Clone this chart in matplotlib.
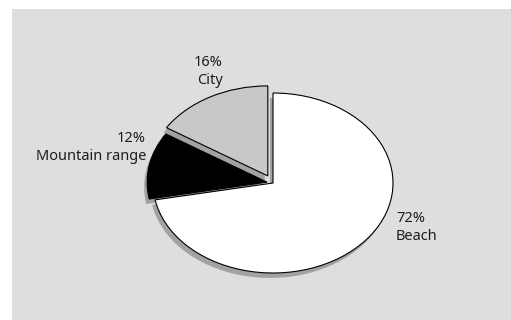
import matplotlib
matplotlib.use("Agg")
import matplotlib.pyplot as plt
from matplotlib.patches import Rectangle

categories = ["Beach", "Mountain range", "City"]
values = [72, 12, 16]
colors = ["#ffffff", "#000000", "#c8c8c8"]
explode = [0.0, 0.05, 0.09]

W, H = 511, 320
fig = plt.figure(figsize=(W / 100, H / 100), dpi=100)
fig.patch.set_facecolor("white")
fig.add_artist(Rectangle((12 / W, 0), 1 - 12 / W, (H - 9) / H,
                         transform=fig.transFigure, facecolor="#dddee0",
                         edgecolor="none", zorder=0))

cx, cy = 273, H - 183
ax = fig.add_axes([(cx - 150) / W, (cy - 112.5) / H, 300 / W, 225 / H])
ax.set_facecolor("none")

# shadow
ax.pie(values, colors=["#a2a2a2"] * 3, explode=explode, startangle=90,
       counterclock=False, center=(-0.025, -0.055),
       wedgeprops=dict(linewidth=0, edgecolor="none"))
# main pie
ax.pie(values, colors=colors, explode=explode, startangle=90,
       counterclock=False,
       wedgeprops=dict(linewidth=0.8, edgecolor="black"))
ax.set_aspect("auto")
ax.set_xlim(-1.25, 1.25)
ax.set_ylim(-1.25, 1.25)
ax.axis("off")

font = dict(family="Noto Sans", fontsize=10.5, color="#1e1e1e")
# label placement (pixel coords from top-left): (x, y_pct, y_name, ha)
placements = {
    "Beach": (396, 218, 237, "left"),
    "Mountain range": (146, 138, 157, "right"),
    "City": (223, 63, 81, "right"),
}
for name, v in zip(categories, values):
    x, y1, y2, ha = placements[name]
    fig.text(x / W, 1 - y1 / H, f"{v}%", ha=ha, va="center", **font)
    fig.text(x / W, 1 - y2 / H, name, ha=ha, va="center", **font)

fig.savefig("out.png", dpi=100)
